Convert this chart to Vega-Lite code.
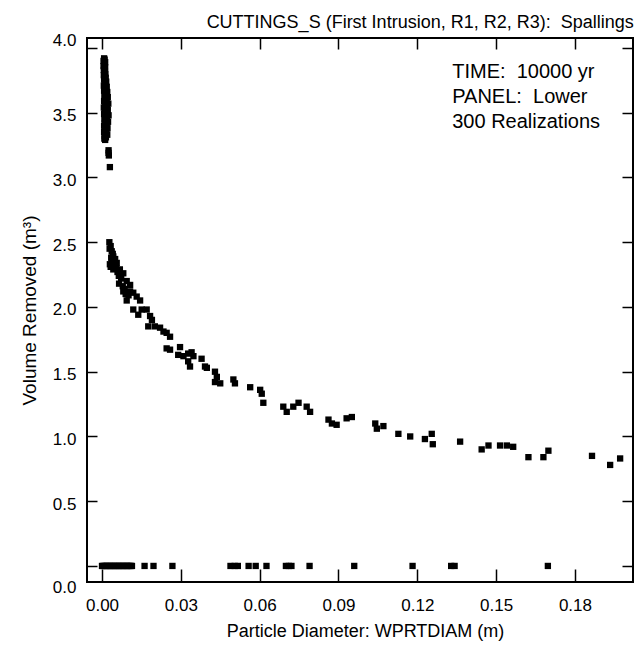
{
  "$schema": "https://vega.github.io/schema/vega-lite/v6.json",
  "width": 546,
  "height": 544,
  "autosize": "none",
  "padding": {"left": 87, "top": 38, "right": 5, "bottom": 67},
  "background": "white",
  "config": {
    "font": "Liberation Sans",
    "view": {"stroke": "black", "strokeWidth": 2},
    "axis": {"domain": false, "grid": false, "tickColor": "black", "tickWidth": 1.5, "labelColor": "black", "titleColor": "black", "labelFont": "Liberation Sans", "titleFont": "Liberation Sans", "labelFontSize": 17, "titleFontSize": 18, "titleFontWeight": "normal"}
  },
  "title": {"text": "CUTTINGS_S (First Intrusion, R1, R2, R3):\u00a0 Spallings", "anchor": "end", "fontSize": 18, "fontWeight": "normal", "font": "Liberation Sans", "color": "black", "offset": 0},
  "datasets": {
    "pts": [
      {"d":0.0008,"v":3.92},{"d":0.0010,"v":3.91},{"d":0.0006,"v":3.90},{"d":0.0012,"v":3.89},{"d":0.0008,"v":3.88},{"d":0.0010,"v":3.87},{"d":0.0006,"v":3.86},{"d":0.0012,"v":3.85},{"d":0.0009,"v":3.84},{"d":0.0007,"v":3.83},{"d":0.0011,"v":3.82},{"d":0.0009,"v":3.81},{"d":0.0013,"v":3.80},{"d":0.0007,"v":3.79},{"d":0.0010,"v":3.78},{"d":0.0014,"v":3.77},{"d":0.0008,"v":3.76},{"d":0.0012,"v":3.75},{"d":0.0016,"v":3.74},{"d":0.0009,"v":3.73},{"d":0.0013,"v":3.72},{"d":0.0007,"v":3.71},{"d":0.0018,"v":3.70},{"d":0.0011,"v":3.69},{"d":0.0015,"v":3.68},{"d":0.0008,"v":3.67},{"d":0.0020,"v":3.66},{"d":0.0012,"v":3.65},{"d":0.0016,"v":3.64},{"d":0.0009,"v":3.63},{"d":0.0022,"v":3.62},{"d":0.0013,"v":3.61},{"d":0.0018,"v":3.60},{"d":0.0008,"v":3.59},{"d":0.0015,"v":3.58},{"d":0.0024,"v":3.57},{"d":0.0011,"v":3.56},{"d":0.0019,"v":3.55},{"d":0.0007,"v":3.54},{"d":0.0014,"v":3.53},{"d":0.0022,"v":3.52},{"d":0.0010,"v":3.51},{"d":0.0017,"v":3.50},{"d":0.0008,"v":3.49},{"d":0.0025,"v":3.48},{"d":0.0013,"v":3.47},{"d":0.0019,"v":3.46},{"d":0.0009,"v":3.45},{"d":0.0016,"v":3.44},{"d":0.0023,"v":3.43},{"d":0.0011,"v":3.42},{"d":0.0018,"v":3.41},{"d":0.0008,"v":3.40},{"d":0.0014,"v":3.39},{"d":0.0021,"v":3.38},{"d":0.0010,"v":3.37},{"d":0.0017,"v":3.36},{"d":0.0008,"v":3.35},{"d":0.0013,"v":3.34},{"d":0.0020,"v":3.33},{"d":0.0010,"v":3.32},{"d":0.0015,"v":3.31},{"d":0.0009,"v":3.30},{"d":0.0012,"v":3.29},
      {"d":0.0025,"v":3.21},{"d":0.0025,"v":3.19},{"d":0.0026,"v":3.17},{"d":0.0030,"v":3.08},
      {"d":0.0028,"v":2.50},{"d":0.0033,"v":2.47},{"d":0.0037,"v":2.43},{"d":0.0041,"v":2.41},{"d":0.0043,"v":2.39},{"d":0.0050,"v":2.37},{"d":0.0056,"v":2.34},{"d":0.0033,"v":2.31},{"d":0.0043,"v":2.29},{"d":0.0059,"v":2.27},{"d":0.0068,"v":2.29},{"d":0.0081,"v":2.26},{"d":0.0065,"v":2.18},{"d":0.0079,"v":2.16},{"d":0.0094,"v":2.20},{"d":0.0107,"v":2.17},{"d":0.0081,"v":2.12},{"d":0.0101,"v":2.09},{"d":0.0119,"v":2.11},{"d":0.0132,"v":2.08},{"d":0.0145,"v":2.05},{"d":0.0094,"v":2.05},{"d":0.0119,"v":1.98},{"d":0.0138,"v":1.94},{"d":0.0151,"v":1.98},{"d":0.0170,"v":1.98},{"d":0.0183,"v":1.93},{"d":0.0190,"v":1.90},{"d":0.0176,"v":1.85},{"d":0.0201,"v":1.85},{"d":0.0221,"v":1.84},{"d":0.0234,"v":1.81},{"d":0.0246,"v":1.80},{"d":0.0259,"v":1.77},{"d":0.0246,"v":1.68},{"d":0.0259,"v":1.67},{"d":0.0297,"v":1.69},{"d":0.0290,"v":1.63},{"d":0.0310,"v":1.62},{"d":0.0328,"v":1.64},{"d":0.0341,"v":1.65},{"d":0.0348,"v":1.62},{"d":0.0328,"v":1.58},{"d":0.0335,"v":1.54},{"d":0.0379,"v":1.60},{"d":0.0392,"v":1.54},{"d":0.0399,"v":1.53},{"d":0.0430,"v":1.50},{"d":0.0437,"v":1.46},{"d":0.0430,"v":1.42},{"d":0.0450,"v":1.41},{"d":0.0500,"v":1.44},{"d":0.0506,"v":1.41},{"d":0.0564,"v":1.38},{"d":0.0602,"v":1.36},{"d":0.0608,"v":1.33},{"d":0.0614,"v":1.26},{"d":0.0690,"v":1.23},{"d":0.0703,"v":1.19},{"d":0.0728,"v":1.23},{"d":0.0748,"v":1.26},{"d":0.0779,"v":1.23},{"d":0.0792,"v":1.19},{"d":0.0862,"v":1.13},{"d":0.0875,"v":1.10},{"d":0.0893,"v":1.09},{"d":0.0931,"v":1.14},{"d":0.0951,"v":1.15},{"d":0.1040,"v":1.10},{"d":0.1046,"v":1.06},{"d":0.1071,"v":1.08},{"d":0.1128,"v":1.02},{"d":0.1173,"v":1.00},{"d":0.1229,"v":0.98},{"d":0.1255,"v":1.02},{"d":0.1259,"v":0.94},{"d":0.1363,"v":0.96},{"d":0.1445,"v":0.90},{"d":0.1471,"v":0.93},{"d":0.1515,"v":0.93},{"d":0.1541,"v":0.93},{"d":0.1565,"v":0.92},{"d":0.1623,"v":0.84},{"d":0.1680,"v":0.84},{"d":0.1699,"v":0.89},{"d":0.1865,"v":0.85},{"d":0.1934,"v":0.78},{"d":0.1972,"v":0.83},
      {"d":0.0029,"v":2.45},{"d":0.0035,"v":2.38},{"d":0.0039,"v":2.35},{"d":0.0047,"v":2.32},{"d":0.0030,"v":2.33},{"d":0.0054,"v":2.30},{"d":0.0064,"v":2.24},{"d":0.0073,"v":2.22},{"d":0.0086,"v":2.14},{"d":0.0090,"v":2.10},{"d":0.0107,"v":2.12},
      {"d":0.0000,"v":0},{"d":0.0005,"v":0},{"d":0.0010,"v":0},{"d":0.0015,"v":0},{"d":0.0020,"v":0},{"d":0.0025,"v":0},{"d":0.0030,"v":0},{"d":0.0035,"v":0},{"d":0.0040,"v":0},{"d":0.0045,"v":0},{"d":0.0050,"v":0},{"d":0.0055,"v":0},{"d":0.0060,"v":0},{"d":0.0065,"v":0},{"d":0.0070,"v":0},{"d":0.0075,"v":0},{"d":0.0080,"v":0},{"d":0.0085,"v":0},{"d":0.0090,"v":0},{"d":0.0095,"v":0},{"d":0.0100,"v":0},{"d":0.0105,"v":0},{"d":0.0110,"v":0},{"d":0.0114,"v":0},
      {"d":0.0162,"v":0},{"d":0.0196,"v":0},{"d":0.0268,"v":0},{"d":0.0489,"v":0},{"d":0.0505,"v":0},{"d":0.0517,"v":0},{"d":0.0558,"v":0},{"d":0.0585,"v":0},{"d":0.0626,"v":0},{"d":0.0700,"v":0},{"d":0.0711,"v":0},{"d":0.0721,"v":0},{"d":0.0790,"v":0},{"d":0.0960,"v":0},{"d":0.1182,"v":0},{"d":0.1329,"v":0},{"d":0.1342,"v":0},{"d":0.1697,"v":0}
    ],
    "one": [{"k": 1}]
  },
  "layer": [
    {
      "data": {"name": "pts"},
      "mark": {"type": "point", "shape": "square", "filled": true, "size": 40, "color": "black", "opacity": 1},
      "encoding": {
        "x": {"field": "d", "type": "quantitative", "scale": {"domain": [-0.00571, 0.2021], "nice": false, "zero": false},
              "axis": {"orient": "bottom", "values": [0, 0.03, 0.06, 0.09, 0.12, 0.15, 0.18], "format": ".2f", "tickSize": -13, "labelPadding": 28, "title": "Particle Diameter: WPRTDIAM (m)", "titlePadding": 9, "titleX": 278}},
        "y": {"field": "v", "type": "quantitative", "scale": {"domain": [-0.124, 4.077], "nice": false, "zero": false},
              "axis": {"orient": "left", "values": [0, 0.5, 1, 1.5, 2, 2.5, 3, 3.5, 4], "format": ".1f", "tickSize": -10, "labelPadding": 21,
                       "labelOffset": {"condition": [{"test": "datum.value === 4", "value": -7}, {"test": "datum.value === 0", "value": 22}], "value": 3},
                       "title": "Volume Removed (m³)", "titleFontSize": 19, "titlePadding": 13}}
      }
    },
    {
      "data": {"name": "pts"},
      "mark": {"type": "point", "opacity": 0},
      "encoding": {
        "x": {"field": "d", "type": "quantitative", "scale": {"domain": [-0.00571, 0.2021], "nice": false, "zero": false},
              "axis": {"orient": "top", "values": [0, 0.03, 0.06, 0.09, 0.12, 0.15, 0.18], "labels": false, "tickSize": -11, "title": null}},
        "y": {"field": "v", "type": "quantitative", "scale": {"domain": [-0.124, 4.077], "nice": false, "zero": false},
              "axis": {"orient": "right", "values": [0, 0.5, 1, 1.5, 2, 2.5, 3, 3.5, 4], "labels": false, "tickSize": -11, "title": null}}
      }
    },
    {
      "data": {"name": "one"},
      "mark": {"type": "text", "text": ["TIME:\u00a0 10000 yr", "PANEL:\u00a0 Lower", "300 Realizations"], "lineHeight": 25, "align": "left", "baseline": "middle", "fontSize": 20, "font": "Liberation Sans", "color": "black"},
      "encoding": {
        "x": {"datum": 0.1333, "type": "quantitative", "scale": {"domain": [-0.00571, 0.2021], "nice": false, "zero": false}, "axis": null},
        "y": {"datum": 3.814, "type": "quantitative", "scale": {"domain": [-0.124, 4.077], "nice": false, "zero": false}, "axis": null}
      }
    }
  ],
  "resolve": {"scale": {"y": "independent"}, "axis": {"x": "independent", "y": "independent"}}
}
